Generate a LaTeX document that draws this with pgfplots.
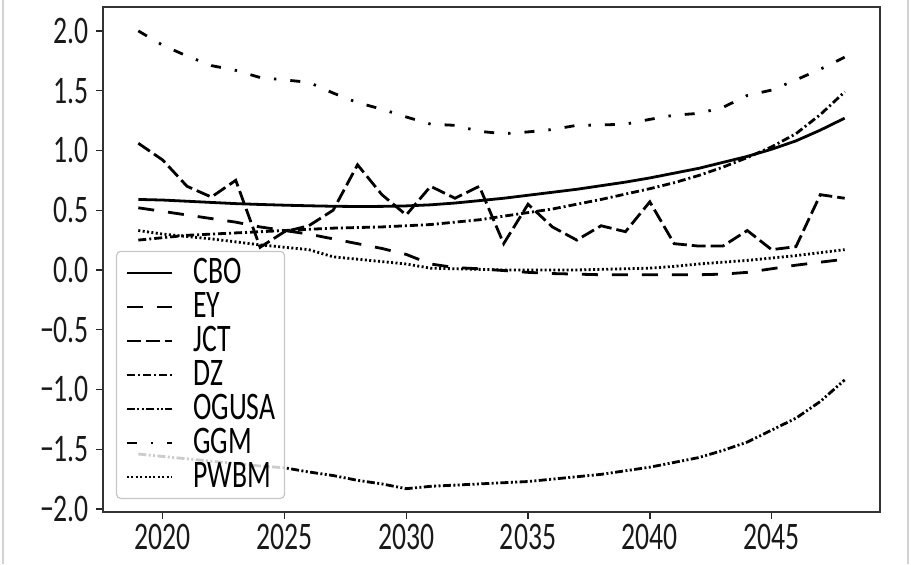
\documentclass[border=0pt]{standalone}
\usepackage{fontspec}
\setmainfont{Carlito}[FakeStretch=0.71]
\usepackage{pgfplots}
\pgfplotsset{compat=1.18}
\begin{document}
\begin{tikzpicture}
\useasboundingbox (-51.5pt,-26pt) rectangle (404pt,256pt);
\draw[gray!35, line width=1pt] (-50pt,-26pt) -- (-50pt,256pt);
\draw[gray!35, line width=1pt] (402.5pt,-26pt) -- (402.5pt,256pt);
\begin{axis}[
  at={(0,0)}, anchor=south west,
  scale only axis, width=388.5pt, height=252.5pt,
  xmin=2017.55, xmax=2049.45, ymin=-2.025, ymax=2.2,
  xtick={2020,2025,2030,2035,2040,2045},
  xticklabels={2020,2025,2030,2035,2040,2045},
  ytick={-2,-1.5,-1,-0.5,0,0.5,1,1.5,2},
  yticklabels={−2.0,−1.5,−1.0,−0.5,0.0,0.5,1.0,1.5,2.0},
  tick align=outside, xtick pos=left, ytick pos=left,
  major tick length=3.5pt,
  tick style={black!85, line width=0.7pt},
  axis line style={black!80, line width=0.8pt},
  ticklabel style={font=\fontsize{19.5}{21}\selectfont, text=black!90},
  xticklabel style={yshift=1pt},
  legend cell align=left,
  legend image code/.code={\draw[#1] (0pt,0pt) -- (22.5pt,0pt); \path (32.5pt,0pt);},
  legend style={at={(0,0)}, anchor=south west, xshift=6.5pt, yshift=6.5pt,
    font=\fontsize{19.5}{21}\selectfont, draw=gray!45, line width=0.6pt,
    rounded corners=2pt, fill=white, fill opacity=0.8, text opacity=1, draw opacity=1,
    inner xsep=4.5pt, inner ysep=2.5pt, row sep=0.5pt,
    nodes={inner xsep=0pt, inner ysep=0pt, text height=13.5pt, text depth=3pt}},
  every axis plot/.append style={black, line width=1.4pt},
]
% CBO
\addplot[solid] coordinates {(2019,0.59)(2020,0.585)(2021,0.575)(2022,0.565)(2023,0.555)(2024,0.548)(2025,0.542)(2026,0.537)(2027,0.533)(2028,0.531)(2029,0.532)(2030,0.536)(2031,0.545)(2032,0.56)(2033,0.58)(2034,0.60)(2035,0.625)(2036,0.65)(2037,0.675)(2038,0.705)(2039,0.735)(2040,0.77)(2041,0.81)(2042,0.85)(2043,0.90)(2044,0.95)(2045,1.01)(2046,1.08)(2047,1.17)(2048,1.27)};
\addlegendentry{CBO}
% EY
\addplot[dash pattern=on 8pt off 7pt] coordinates {(2019,0.52)(2020,0.49)(2021,0.46)(2022,0.43)(2023,0.40)(2024,0.36)(2025,0.33)(2026,0.30)(2027,0.26)(2028,0.22)(2029,0.18)(2030,0.13)(2031,0.05)(2032,0.02)(2033,0.01)(2034,-0.005)(2035,-0.02)(2036,-0.03)(2037,-0.035)(2038,-0.04)(2039,-0.04)(2040,-0.04)(2041,-0.04)(2042,-0.04)(2043,-0.035)(2044,-0.02)(2045,0.01)(2046,0.04)(2047,0.065)(2048,0.09)};
\addlegendentry{EY}
% JCT
\addplot[dash pattern=on 7pt off 2.5pt] coordinates {(2019,1.06)(2020,0.92)(2021,0.70)(2022,0.61)(2023,0.75)(2024,0.19)(2025,0.32)(2026,0.37)(2027,0.50)(2028,0.88)(2029,0.63)(2030,0.46)(2031,0.70)(2032,0.60)(2033,0.70)(2034,0.22)(2035,0.55)(2036,0.36)(2037,0.25)(2038,0.37)(2039,0.32)(2040,0.57)(2041,0.22)(2042,0.20)(2043,0.20)(2044,0.33)(2045,0.17)(2046,0.195)(2047,0.63)(2048,0.60)};
\addlegendentry{JCT}
% DZ
\addplot[dash pattern=on 4pt off 1.5pt on 1pt off 1.5pt] coordinates {(2019,0.25)(2020,0.27)(2021,0.29)(2022,0.30)(2023,0.31)(2024,0.32)(2025,0.33)(2026,0.34)(2027,0.35)(2028,0.355)(2029,0.36)(2030,0.37)(2031,0.38)(2032,0.40)(2033,0.42)(2034,0.45)(2035,0.48)(2036,0.51)(2037,0.55)(2038,0.59)(2039,0.635)(2040,0.68)(2041,0.73)(2042,0.79)(2043,0.86)(2044,0.94)(2045,1.03)(2046,1.14)(2047,1.30)(2048,1.49)};
\addlegendentry{DZ}
% OGUSA
\addplot[dash pattern=on 4pt off 1.2pt on 1pt off 1.2pt on 1pt off 1.2pt] coordinates {(2019,-1.54)(2020,-1.56)(2021,-1.58)(2022,-1.60)(2023,-1.62)(2024,-1.64)(2025,-1.655)(2026,-1.69)(2027,-1.72)(2028,-1.76)(2029,-1.79)(2030,-1.83)(2031,-1.81)(2032,-1.80)(2033,-1.79)(2034,-1.78)(2035,-1.77)(2036,-1.75)(2037,-1.73)(2038,-1.71)(2039,-1.68)(2040,-1.65)(2041,-1.61)(2042,-1.57)(2043,-1.51)(2044,-1.44)(2045,-1.34)(2046,-1.24)(2047,-1.10)(2048,-0.92)};
\addlegendentry{OGUSA}
% GGM
\addplot[dash pattern=on 5pt off 7pt on 1.2pt off 7pt] coordinates {(2019,2.00)(2020,1.88)(2021,1.79)(2022,1.71)(2023,1.67)(2024,1.61)(2025,1.59)(2026,1.57)(2027,1.48)(2028,1.40)(2029,1.345)(2030,1.28)(2031,1.22)(2032,1.21)(2033,1.16)(2034,1.14)(2035,1.155)(2036,1.175)(2037,1.21)(2038,1.213)(2039,1.22)(2040,1.26)(2041,1.295)(2042,1.31)(2043,1.36)(2044,1.46)(2045,1.505)(2046,1.59)(2047,1.68)(2048,1.78)};
\addlegendentry{GGM}
% PWBM
\addplot[dash pattern=on 1pt off 1.2pt] coordinates {(2019,0.33)(2020,0.30)(2021,0.28)(2022,0.26)(2023,0.235)(2024,0.21)(2025,0.19)(2026,0.17)(2027,0.11)(2028,0.09)(2029,0.07)(2030,0.05)(2031,0.015)(2032,0.01)(2033,0.005)(2034,0)(2035,0)(2036,0)(2037,0)(2038,0.005)(2039,0.01)(2040,0.015)(2041,0.03)(2042,0.05)(2043,0.065)(2044,0.08)(2045,0.10)(2046,0.12)(2047,0.145)(2048,0.17)};
\addlegendentry{PWBM}
\end{axis}
\end{tikzpicture}
\end{document}
